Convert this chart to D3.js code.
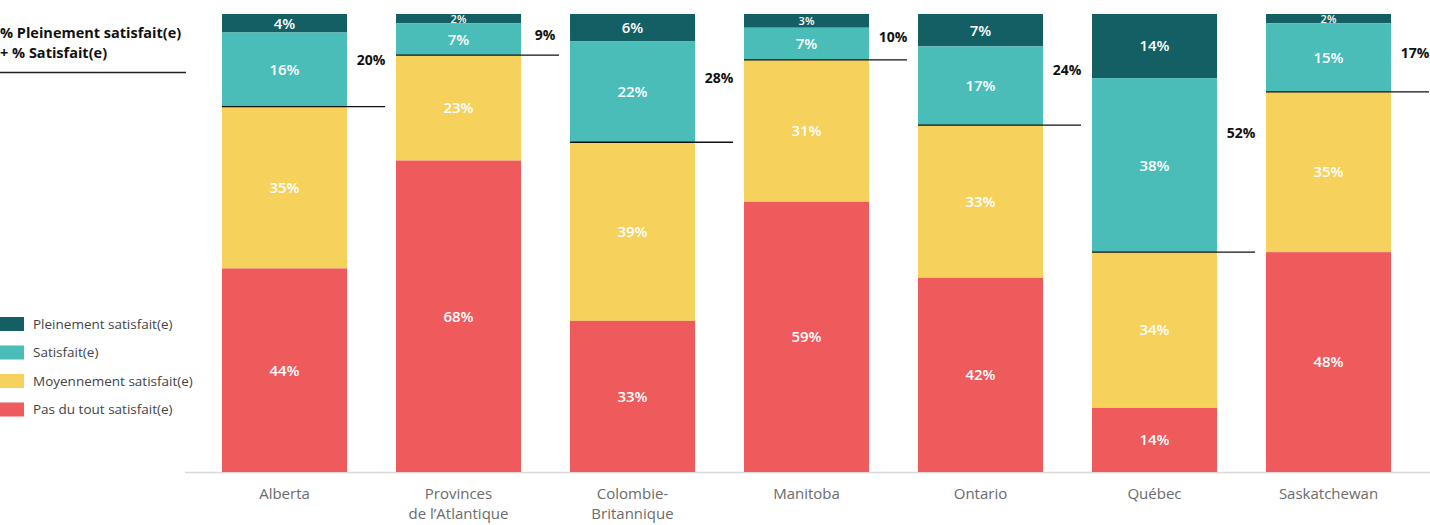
<!DOCTYPE html>
<html><head><meta charset="utf-8">
<script src="https://cdn.jsdelivr.net/npm/d3@7"></script>
<style>body{margin:0;background:#fff;}svg{display:block;font-family:"Open Sans",Lato,sans-serif;}</style>
</head><body><svg id="c" width="1430" height="525"></svg>
<script>
const categories = ["Alberta", "Provinces\nde l’Atlantique", "Colombie-\nBritannique", "Manitoba", "Ontario", "Québec", "Saskatchewan"];
const pleinement = [4, 2, 6, 3, 7, 14, 2];
const satisfait = [16, 7, 22, 7, 17, 38, 15];
const moyennement = [35, 23, 39, 31, 33, 34, 35];
const pasDuTout = [44, 68, 33, 59, 42, 14, 48];
const totals = ["20%", "9%", "28%", "10%", "24%", "52%", "17%"];
const seriesNames = ["Pleinement satisfait(e)", "Satisfait(e)", "Moyennement satisfait(e)", "Pas du tout satisfait(e)"];
const colors = ["#135f64", "#4abdb9", "#f6d15c", "#ef5a5c"];
const titleLines = ["% Pleinement satisfait(e)", "+ % Satisfait(e)"];

const svg = d3.select("#c");
const keys = ["p", "s", "m", "d"];
const rows = categories.map((c, i) => ({cat: c, p: pleinement[i], s: satisfait[i], m: moyennement[i], d: pasDuTout[i], total: totals[i]}));
const stack = d3.stack().keys(keys).offset(d3.stackOffsetExpand);
const series = stack(rows);

const x = d3.scaleBand().domain(categories).range([197.5, 1415.5]).paddingInner(49/174).paddingOuter(24.5/174);
const y = d3.scaleLinear().domain([0, 1]).range([14, 472]);

svg.append("line").attr("x1", 185).attr("x2", 1430).attr("y1", 472.5).attr("y2", 472.5).attr("stroke", "#d9d9d9").attr("stroke-width", 1.5);

series.forEach((s, si) => {
  const g = svg.append("g");
  g.selectAll("rect").data(s).join("rect")
    .attr("x", d => x(d.data.cat))
    .attr("width", x.bandwidth())
    .attr("y", d => y(d[0]))
    .attr("height", d => y(d[1]) - y(d[0]))
    .attr("fill", colors[si]);
  g.selectAll("text").data(s).join("text")
    .attr("x", d => x(d.data.cat) + x.bandwidth() / 2)
    .attr("y", d => (y(d[0]) + y(d[1])) / 2)
    .attr("dy", "0.36em")
    .attr("text-anchor", "middle")
    .attr("fill", "#fff")
    .attr("font-weight", 600)
    .attr("font-size", d => d.data[keys[si]] <= 3 ? 11 : 15)
    .text(d => d.data[keys[si]] + "%");
});

const sSeries = series[1];
svg.append("g").selectAll("line").data(sSeries).join("line")
  .attr("x1", d => x(d.data.cat))
  .attr("x2", d => x(d.data.cat) + x.bandwidth() + 38)
  .attr("y1", d => y(d[1]))
  .attr("y2", d => y(d[1]))
  .attr("stroke", "#111").attr("stroke-width", 1.3);
svg.append("g").selectAll("text").data(sSeries).join("text")
  .attr("x", d => x(d.data.cat) + x.bandwidth() + 24)
  .attr("y", d => (y(0) + y(d[1])) / 2)
  .attr("dy", "0.36em")
  .attr("text-anchor", "middle")
  .attr("font-size", 14).attr("font-weight", 700).attr("fill", "#111")
  .text(d => d.data.total);

const xl = svg.append("g");
categories.forEach(c => {
  const t = xl.append("text").attr("x", x(c) + x.bandwidth() / 2).attr("y", 499)
    .attr("text-anchor", "middle").attr("font-size", 15).attr("fill", "#6b6b6b");
  c.split("\n").forEach((ln, i) => t.append("tspan").attr("x", x(c) + x.bandwidth() / 2).attr("dy", i ? 20 : 0).text(ln));
});

titleLines.forEach((t, i) => svg.append("text").attr("x", 0).attr("y", 38 + i * 20).attr("font-size", 14.5).attr("font-weight", 700).attr("fill", "#111").text(t));
svg.append("line").attr("x1", 0).attr("x2", 186).attr("y1", 72.5).attr("y2", 72.5).attr("stroke", "#222").attr("stroke-width", 1.3);

const lg = svg.append("g");
seriesNames.forEach((n, i) => {
  const yy = 317 + i * 28.5;
  lg.append("rect").attr("x", 0).attr("y", yy).attr("width", 24).attr("height", 14).attr("fill", colors[i]);
  lg.append("text").attr("x", 33).attr("y", yy + 7).attr("dy", "0.36em").attr("font-size", 13.5).attr("fill", "#444").text(n);
});
</script></body></html>
